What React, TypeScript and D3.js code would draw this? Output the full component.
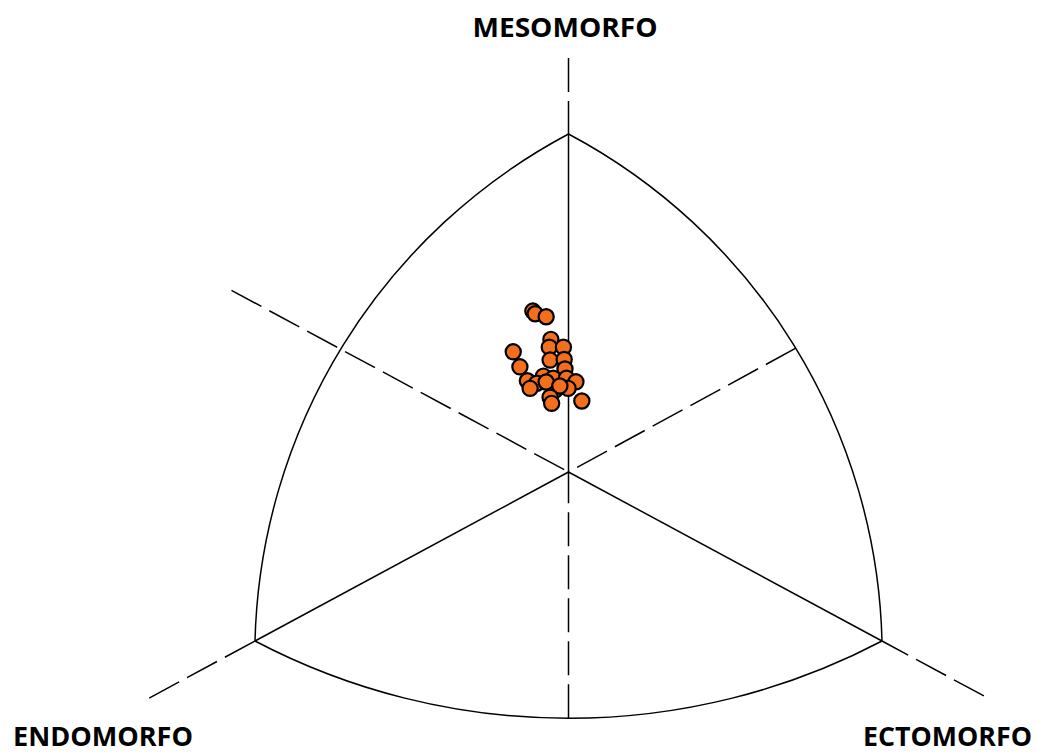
import React from "react";
import * as d3 from "d3";

const W = 1039;
const H = 753;

// Somatochart coordinates: X = ecto - endo, Y = 2*meso - (endo + ecto)
const vertexNames = ["MESOMORFO", "ENDOMORFO", "ECTOMORFO"];
const vertexX = [0, -8, 8];
const vertexY = [16, -8, -8];

// arc mid points (where the arcs cross the axes)
const arcMidX = [-5.8, 5.8, 0];
const arcMidY = [5.86, 5.86, -11.66];

// dashed axis extensions [x1, y1, x2, y2]
const dashedSegments: number[][] = [
  [0, 16, 0, 19.6],
  [0, 0, 0, -11.66],
  [0, 0, -8.6, 8.6],
  [0, 0, 5.8, 5.86],
  [-8, -8, -10.7, -10.7],
  [8, -8, 10.6, -10.6],
];

const pointX = [-0.91, -0.85, -0.57, -0.45, -0.49, -0.13, -1.41, -0.47, -0.11, -1.24, -0.09, -0.64, -1.05, -0.81, -0.39, -0.05, 0.19, -0.98, -0.01, -0.34, -0.57, -0.22, -0.47, -0.43, 0.34];
const pointY = [7.62, 7.49, 7.35, 6.28, 5.91, 5.91, 5.69, 5.3, 5.33, 4.98, 4.88, 4.54, 4.32, 4.2, 4.44, 4.44, 4.27, 3.96, 3.96, 3.88, 4.26, 4.07, 3.54, 3.25, 3.36];

const x = d3.scaleLinear().domain([-8, 8]).range([255, 882]);
const y = d3.scaleLinear().domain([-8, 16]).range([641, 134]);

function circumArc(p1: number[], pm: number[], p2: number[]) {
  const [ax, ay] = p1, [bx, by] = pm, [cx, cy] = p2;
  const d = 2 * (ax * (by - cy) + bx * (cy - ay) + cx * (ay - by));
  const ux = ((ax * ax + ay * ay) * (by - cy) + (bx * bx + by * by) * (cy - ay) + (cx * cx + cy * cy) * (ay - by)) / d;
  const uy = ((ax * ax + ay * ay) * (cx - bx) + (bx * bx + by * by) * (ax - cx) + (cx * cx + cy * cy) * (bx - ax)) / d;
  const r = Math.hypot(ax - ux, ay - uy);
  const cross = (bx - ax) * (cy - ay) - (by - ay) * (cx - ax);
  const sweep = cross > 0 ? 1 : 0;
  return `M${ax},${ay} A${r},${r} 0 0 ${sweep} ${cx},${cy}`;
}

export default function App() {
  const V = vertexX.map((vx, i) => [x(vx), y(vertexY[i])]);
  const M = arcMidX.map((mx, i) => [x(mx), y(arcMidY[i])]);
  const arcs = [
    circumArc(V[0], M[0], V[1]),
    circumArc(V[0], M[1], V[2]),
    circumArc(V[1], M[2], V[2]),
  ];
  const cx0 = x(0), cy0 = y(0);
  return (
    <svg width={W} height={H} style={{ position: "absolute", left: 0, top: 0, background: "#fff" }}>
      <g fill="none" stroke="#000" strokeWidth={1.5}>
        {arcs.map((d, i) => <path key={"a" + i} d={d} />)}
        {V.map((v, i) => <line key={"s" + i} x1={cx0} y1={cy0} x2={v[0]} y2={v[1]} />)}
        {dashedSegments.map((s, i) => (
          <line key={"d" + i} x1={x(s[2])} y1={y(s[3])} x2={x(s[0])} y2={y(s[1])} strokeDasharray="34 9" />
        ))}
      </g>
      <g fill="#F36F1E" stroke="#000" strokeWidth={2.2}>
        {pointX.map((px, i) => <circle key={"p" + i} cx={x(px)} cy={y(pointY[i])} r={7.6} />)}
      </g>
      <g fontFamily="'Open Sans', Lato, sans-serif" fontWeight="bold" fontSize={26} fill="#000">
        <text x={565} y={37} textAnchor="middle" textLength={185} lengthAdjust="spacingAndGlyphs">{vertexNames[0]}</text>
        <text x={13} y={746} textLength={180} lengthAdjust="spacingAndGlyphs">{vertexNames[1]}</text>
        <text x={863} y={746} textLength={169} lengthAdjust="spacingAndGlyphs">{vertexNames[2]}</text>
      </g>
    </svg>
  );
}
